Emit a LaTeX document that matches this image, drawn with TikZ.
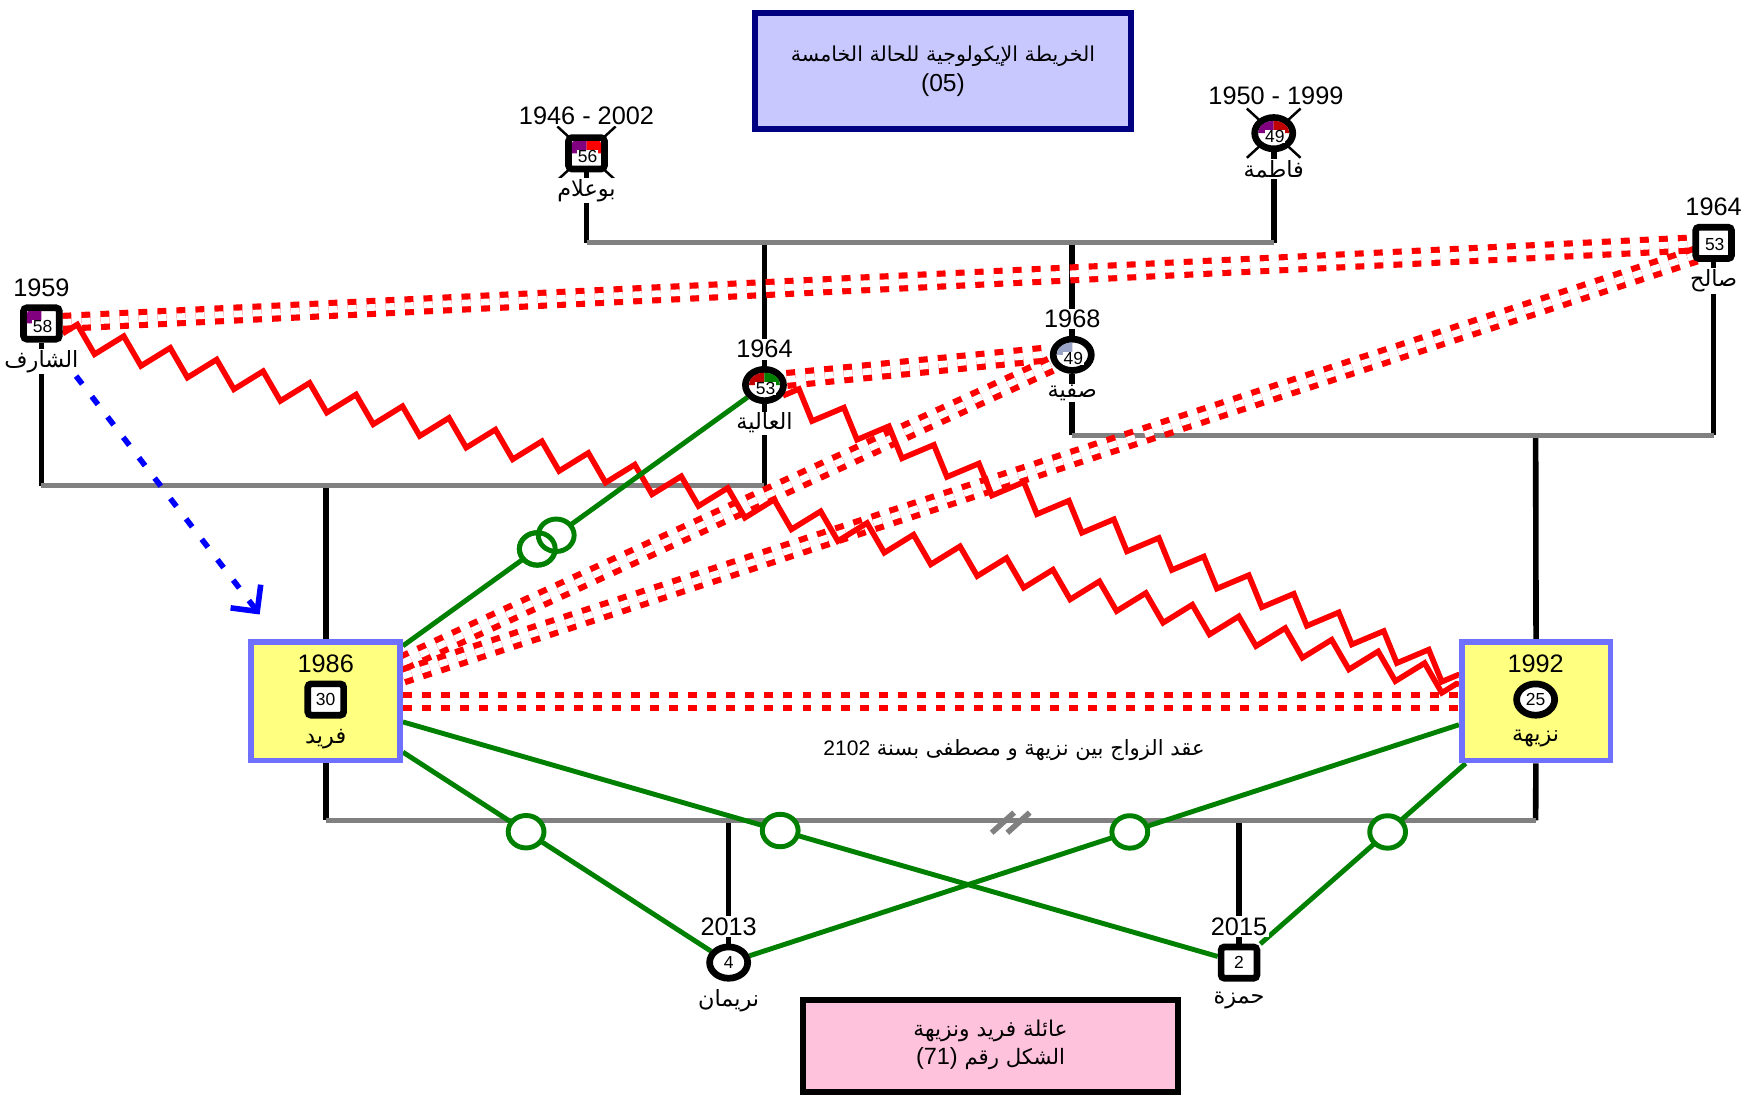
\documentclass[tikz,border=0pt]{standalone}
\usepackage{fontspec}
\setmainfont{Liberation Sans}
\newfontfamily\arabicfont[Script=Arabic]{DejaVu Sans}
\TeXXeTstate=1
\usetikzlibrary{calc,shapes.geometric,decorations.pathmorphing,arrows.meta}
\pgfdeclarelayer{back}
\pgfdeclarelayer{bg}
\pgfsetlayers{back,bg,main}
\definecolor{gline}{HTML}{808080}
\definecolor{grn}{HTML}{008000}
\definecolor{purp}{HTML}{800080}
\definecolor{dred}{HTML}{C00000}
\definecolor{sblue}{HTML}{9AA4C6}
\definecolor{boxyel}{HTML}{FFFF80}
\definecolor{boxblue}{HTML}{7070FF}
\definecolor{titfill}{HTML}{C8C8FF}
\definecolor{titdraw}{HTML}{000080}
\definecolor{pinkfill}{HTML}{FFC2DC}
\tikzset{
 sq/.style={draw, line width=3pt, fill=white, minimum width=16pt, minimum height=14pt, inner sep=0pt, rounded corners=1.5pt},
 fem/.style={ellipse, draw, line width=3pt, fill=white, minimum width=17pt, minimum height=14pt, inner sep=0pt},
 num/.style={fill=white, inner sep=0.2pt, font=\fontsize{7.8}{8}\selectfont},
 date/.style={fill=white, inner sep=0.6pt, font=\fontsize{11.3}{11.5}\selectfont},
 aname/.style={fill=white, inner sep=0.6pt, font=\arabicfont\fontsize{10}{10.5}\selectfont},
 kin/.style={line width=2.5pt},
 union/.style={gline, line width=2.2pt},
 hostile/.style={red, line width=2.75pt, double=white, double distance=3pt, dash pattern=on 4pt off 4.5pt},
 conflict/.style={red, line width=2.5pt, decorate},
 bond/.style={grn, line width=2.2pt},
 ring/.style={ellipse, draw=grn, line width=2.2pt, fill=white, minimum width=16pt, minimum height=14.5pt, inner sep=0pt},
 fambox/.style={draw=boxblue, fill=boxyel, line width=2.5pt, minimum width=66.5pt, minimum height=53pt, inner sep=0pt},
}
\newcommand\qTL[2]{\fill[#2] (#1.center) -- ++(-16,0) arc[start angle=180,end angle=90,radius=16] -- cycle;}
\newcommand\qTR[2]{\fill[#2] (#1.center) -- ++(0,16) arc[start angle=90,end angle=0,radius=16] -- cycle;}
\newcommand\clipsq[1]{\clip ($(#1)+(-13,-11)$) rectangle ($(#1)+(13,11)$);}
\newcommand\clipel[1]{\clip (#1.center) ellipse[x radius=14,y radius=11];}
\begin{document}
\begin{tikzpicture}[x=0.5pt,y=0.5pt]
\begin{pgfonlayer}{back}
\fill[white] (0,0) rectangle (1568,-981);
\end{pgfonlayer}
\useasboundingbox (0,0) rectangle (1568,-981);

% title and caption boxes
\node[draw=titdraw, fill=titfill, line width=2.5pt, minimum width=168pt, minimum height=52pt, inner sep=0pt] (title) at (842.5,-63.5) {};
\node[font=\arabicfont\fontsize{9.2}{10}\selectfont] (titleA) at (842.5,-50) {\beginR الخريطة الإيكولوجية للحالة الخامسة\endR};
\node[font=\fontsize{11}{11}\selectfont] (titleB) at (842.5,-76) {(05)};

\node[draw=black, fill=pinkfill, line width=2.5pt, minimum width=167.5pt, minimum height=41pt, inner sep=0pt] (cap) at (885,-934.5) {};
\node[font=\arabicfont\fontsize{9.7}{10.5}\selectfont] (capA) at (885,-921) {\beginR عائلة فريد ونزيهة\endR};
\node[font=\arabicfont\fontsize{9.5}{10.5}\selectfont] (capB) at (885,-946) {\beginR الشكل رقم \beginL{\rmfamily\fontsize{10.5}{11}\selectfont (71)}\endL\endR};

\node[font=\arabicfont\fontsize{9.4}{10.5}\selectfont] (marr) at (906,-670) {\beginR عقد الزواج بين نزيهة و مصطفى بسنة \beginL{\rmfamily 2102}\endL\endR};

% family boxes
\node[fambox] (fbox) at (291,-626.5) {};
\node[fambox] (nbox) at (1372.5,-626.5) {};

% persons
\node[sq] (boualem) at (524,-137) {};
\begin{scope}\clipsq{boualem}\qTL{boualem}{purp}\qTR{boualem}{red}\end{scope}
\node[num] (boualemN) at ($(boualem)+(1,-3)$) {56};
\node[date] (boualemD) at (524,-103) {1946 - 2002};
\node[aname] (boualemL) at (524,-170) {\beginR بوعلام\endR};

\node[fem] (fatima) at (1138,-119) {};
\begin{scope}\clipel{fatima}\qTL{fatima}{purp}\qTR{fatima}{dred}\end{scope}
\node[num] (fatimaN) at ($(fatima)+(1,-3)$) {49};
\node[date] (fatimaD) at (1140,-86) {1950 - 1999};
\node[aname] (fatimaL) at (1138,-151) {\beginR فاطمة\endR};

\node[sq] (charef) at (37,-289) {};
\begin{scope}\clipsq{charef}\qTL{charef}{purp}\end{scope}
\node[num] (charefN) at ($(charef)+(1,-3)$) {58};
\node[date] (charefD) at (37,-257) {1959};
\node[aname] (charefL) at (37,-323) {\beginR الشارف\endR};

\node[fem] (alia) at (683,-344) {};
\begin{scope}\clipel{alia}\qTL{alia}{dred}\qTR{alia}{grn}\end{scope}
\node[num] (aliaN) at ($(alia)+(1,-3)$) {53};
\node[date] (aliaD) at (683,-312) {1964};
\node[aname] (aliaL) at (683,-378) {\beginR العالية\endR};

\node[fem] (safia) at (958,-317) {};
\begin{scope}\clipel{safia}\qTL{safia}{sblue}\end{scope}
\node[num] (safiaN) at ($(safia)+(1,-3)$) {49};
\node[date] (safiaD) at (958,-285) {1968};
\node[aname] (safiaL) at (958,-351) {\beginR صفية\endR};

\node[sq] (saleh) at (1531,-217) {};
\node[num] (salehN) at ($(saleh)+(1,-1)$) {53};
\node[date] (salehD) at (1531,-185) {1964};
\node[aname] (salehL) at (1531,-251) {\beginR صالح\endR};

\node[sq] (farid) at (291,-625) {};
\node[num] (faridN) at (farid) {30};
\node[date, fill=none] (faridD) at (291,-593) {1986};
\node[aname, fill=none] (faridL) at (291,-660) {\beginR فريد\endR};

\node[fem] (naziha) at (1372,-625) {};
\node[num] (nazihaN) at (naziha) {25};
\node[date, fill=none] (nazihaD) at (1372,-593) {1992};
\node[aname, fill=none] (nazihaL) at (1372,-660) {\beginR نزيهة\endR};

\node[fem] (nariman) at (651,-860) {};
\node[num] (narimanN) at (nariman) {4};
\node[date] (narimanD) at (651,-828) {2013};
\node[aname] (narimanL) at (651,-894) {\beginR نريمان\endR};

\node[sq] (hamza) at (1107,-860) {};
\node[num] (hamzaN) at (hamza) {2};
\node[date] (hamzaD) at (1107,-828) {2015};
\node[aname] (hamzaL) at (1107,-894) {\beginR حمزة\endR};

\begin{pgfonlayer}{bg}
% deceased marks
\draw[line width=1.1pt] ($(boualem)+(-26,24)$) -- ($(boualem)+(26,-24)$);
\draw[line width=1.1pt] ($(boualem)+(-26,-24)$) -- ($(boualem)+(26,24)$);
\draw[line width=1.1pt] ($(fatima)+(-24,22)$) -- ($(fatima)+(24,-22)$);
\draw[line width=1.1pt] ($(fatima)+(-24,-22)$) -- ($(fatima)+(24,22)$);

% family structure
\coordinate (u1l) at (524,-217); \coordinate (u1r) at (1138,-217);
\coordinate (u1a) at (683,-217); \coordinate (u1b) at (958,-217);
\coordinate (u2l) at (37,-434); \coordinate (u2r) at (683,-434); \coordinate (u2c) at (291,-434);
\coordinate (u3l) at (958,-389); \coordinate (u3r) at (1531,-389); \coordinate (u3c) at (1372,-389);
\coordinate (u4l) at (291,-733); \coordinate (u4r) at (1372,-733);
\coordinate (u4a) at (651,-733); \coordinate (u4b) at (1107,-733);
\draw[kin] (boualem) -- (u1l);
\draw[kin] (fatima) -- (u1r);
\draw[kin] (u1a) -- (alia);
\draw[kin] (u1b) -- (safia);
\draw[kin] (charef) -- (u2l);
\draw[kin] (alia) -- (u2r);
\draw[kin] (u2c) -- (fbox);
\draw[kin] (safia) -- (u3l);
\draw[kin] (saleh) -- (u3r);
\draw[kin] (u3c) -- (nbox);
\draw[kin] (fbox) -- (u4l);
\draw[kin] (nbox) -- (u4r);
\draw[kin] (u4a) -- (nariman);
\draw[kin] (u4b) -- (hamza);
\draw[union] (u1l) -- (u1r);
\draw[union] (u2l) -- (u2r);
\draw[union] (u3l) -- (u3r);
\draw[union] (u4l) -- (u4r);
\draw[union, line width=2.5pt] (886,-744) -- (906,-726);
\draw[union, line width=2.5pt] (900,-744) -- (920,-726);

% hostile relations
\draw[hostile] ($(charef.east)+(0,1)$) -- ($(saleh.west)+(0,-1)$);
\draw[hostile] ($(alia.east)+(0,5)$) -- ($(safia.west)+(0,1)$);
\draw[hostile] ($(fbox.north east)+(0,-21)$) -- (safia.205);
\draw[hostile] ($(fbox.north east)+(0,-33)$) -- ($(saleh.south west)+(3,6)$);
\draw[hostile] (fbox.east) -- (nbox.west);

% conflict relations
\draw[conflict, decoration={zigzag, segment length=21.4pt, amplitude=5.5pt}] ($(charef.east)+(0,-9)$) -- ($(nbox.west)+(0,15)$);
\draw[conflict, decoration={zigzag, segment length=21.75pt, amplitude=5.5pt}] (alia.-30) -- ($(nbox.west)+(0,23)$);

% close relations
\draw[bond] ($(fbox.north east)+(0,-6)$) -- node[ring, pos=0.39] (r1) {} node[ring, pos=0.445] (r2) {} (alia);
\draw[grn, line width=2.2pt] (r1.center) ellipse[x radius=16, y radius=14.5];
\draw[bond] ($(fbox.east)+(0,-18.5)$) -- node[ring, pos=0.463] (r3) {} (hamza);
\draw[bond] ($(fbox.south east)+(0,10)$) -- node[ring, pos=0.40] (r4) {} (nariman);
\draw[bond] ($(nbox.west)+(0,-21)$) -- node[ring, pos=0.464] (r5) {} (nariman);
\draw[bond] ($(nbox.south west)+(6,0)$) -- node[ring, pos=0.38] (r6) {} (hamza);

% cut-off / influence arrow
\draw[blue, line width=2.5pt, dash pattern=on 4.5pt off 7pt, -{Straight Barb[length=8.5pt,width=17pt]}] ($(charef)+(31,-47)$) -- ($(fbox.north west)+(10,22)$);
\end{pgfonlayer}
\end{tikzpicture}
\end{document}
